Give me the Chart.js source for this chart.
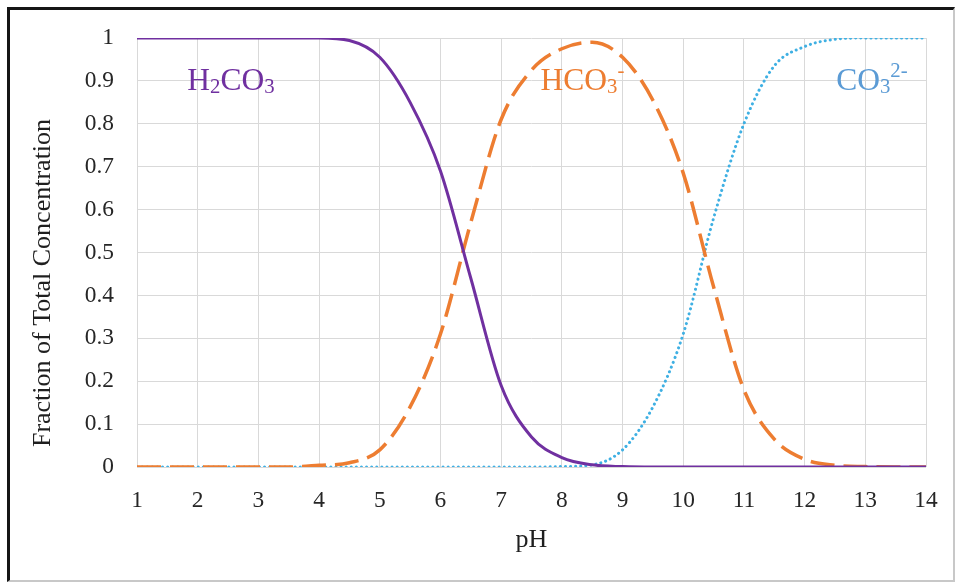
<!DOCTYPE html>
<html>
<head>
<meta charset="utf-8">
<title>Carbonate species vs pH</title>
<script src="https://cdn.jsdelivr.net/npm/chart.js@4.4.1/dist/chart.umd.min.js"></script>
<style>
  html, body { margin: 0; padding: 0; background: #fff; }
  #wrap { position: relative; width: 959px; height: 584px; }
  #chart { position: absolute; left: 0; top: 0; }
  #frame {
    position: absolute; left: 7px; top: 7px; width: 943px; height: 570px;
    border-left: 3px solid #151515; border-top: 3px solid #151515;
    border-right: 2px solid #c8c8c8; border-bottom: 2px solid #c8c8c8;
    pointer-events: none;
  }
</style>
</head>
<body>
<div id="wrap">
  <canvas id="chart" width="959" height="584"></canvas>
  <div id="frame"></div>
</div>
<script>
// pH, every half unit
const phValues = [1, 1.5, 2, 2.5, 3, 3.5, 4, 4.5, 5, 5.5, 6, 6.5, 7, 7.5, 8, 8.5, 9, 9.5, 10, 10.5, 11, 11.5, 12, 12.5, 13, 13.5, 14];

// fraction of total carbonate for each species
const h2co3 = [1, 1, 1, 1, 1, 1, 1, 0.994, 0.955, 0.85, 0.69, 0.44, 0.19, 0.07, 0.022, 0.005, 0.001, 0, 0, 0, 0, 0, 0, 0, 0, 0, 0];
const hco3  = [0, 0, 0, 0, 0, 0, 0.004, 0.01, 0.04, 0.14, 0.31, 0.57, 0.81, 0.925, 0.975, 0.99, 0.955, 0.855, 0.685, 0.42, 0.18, 0.065, 0.018, 0.004, 0.001, 0, 0];
const co3   = [0, 0, 0, 0, 0, 0, 0, 0, 0, 0, 0, 0, 0, 0, 0.001, 0.005, 0.04, 0.14, 0.31, 0.58, 0.80, 0.935, 0.98, 0.997, 1, 1, 1];

const xTickLabels = ['1', '2', '3', '4', '5', '6', '7', '8', '9', '10', '11', '12', '13', '14'];
const yTickLabels = ['0', '0.1', '0.2', '0.3', '0.4', '0.5', '0.6', '0.7', '0.8', '0.9', '1'];

const serif = '"Liberation Serif", "Times New Roman", serif';

function toPoints(values) {
  return phValues.map((ph, i) => ({ x: ph, y: values[i] }));
}

// draws a formula with sub/superscripts, left-aligned on the baseline
function drawFormula(ctx, parts, x, y, color, size) {
  ctx.save();
  ctx.fillStyle = color;
  ctx.textAlign = 'left';
  ctx.textBaseline = 'alphabetic';
  let cx = x;
  parts.forEach(([txt, kind]) => {
    let fs = size, dy = 0;
    if (kind === 'sub') { fs = size * 0.66; dy = size * 0.1; }
    if (kind === 'sup') { fs = size * 0.66; dy = -size * 0.4; }
    ctx.font = fs + 'px ' + serif;
    ctx.fillText(txt, cx, y + dy);
    cx += ctx.measureText(txt).width;
  });
  ctx.restore();
}

const chartText = {
  id: 'chartText',
  afterDraw(chart) {
    const ctx = chart.ctx;
    const sx = chart.scales.x;
    const sy = chart.scales.y;
    const area = chart.chartArea;

    ctx.save();
    ctx.fillStyle = '#1f1f1f';
    ctx.font = '26px ' + serif;
    ctx.textAlign = 'center';
    ctx.textBaseline = 'alphabetic';
    ctx.fillText('pH', (area.left + area.right) / 2, 547);
    ctx.translate(50, 283);
    ctx.rotate(-Math.PI / 2);
    ctx.fillText('Fraction of Total Concentration', 0, 0);
    ctx.restore();

    const labelY = sy.getPixelForValue(0.879);
    drawFormula(ctx, [['H'], ['2', 'sub'], ['CO'], ['3', 'sub']], sx.getPixelForValue(1.83), labelY, '#7030a0', 31.5);
    drawFormula(ctx, [['HCO'], ['3', 'sub'], ['-', 'sup']], sx.getPixelForValue(7.65), labelY, '#ed7d31', 31.5);
    drawFormula(ctx, [['CO'], ['3', 'sub'], ['2-', 'sup']], sx.getPixelForValue(12.52), labelY, '#5b9bd5', 31.5);
  }
};

const tickFont = { family: serif, size: 23.4 };

new Chart(document.getElementById('chart'), {
  type: 'line',
  data: {
    datasets: [
      {
        label: 'H2CO3',
        data: toPoints(h2co3),
        borderColor: '#7030a0',
        borderWidth: 3,
        cubicInterpolationMode: 'monotone'
      },
      {
        label: 'HCO3-',
        data: toPoints(hco3),
        borderColor: '#ed7d31',
        borderWidth: 3.5,
        borderDash: [24, 9],
        cubicInterpolationMode: 'monotone'
      },
      {
        label: 'CO3 2-',
        data: toPoints(co3),
        borderColor: '#3fb0e3',
        borderWidth: 3,
        borderDash: [0.1, 5],
        borderCapStyle: 'round',
        cubicInterpolationMode: 'monotone'
      }
    ]
  },
  options: {
    responsive: false,
    animation: false,
    events: [],
    layout: { padding: { left: 0, right: 33, top: 38, bottom: 0 } },
    elements: { point: { radius: 0 } },
    plugins: {
      legend: { display: false },
      tooltip: { enabled: false }
    },
    scales: {
      x: {
        type: 'linear',
        min: 1,
        max: 14,
        afterFit: (scale) => { scale.height = 117; },
        ticks: {
          stepSize: 1,
          autoSkip: false,
          maxRotation: 0,
          padding: 20,
          color: '#262626',
          font: tickFont,
          callback: (v, i) => xTickLabels[i]
        },
        grid: { color: '#d9d9d9', drawTicks: false },
        border: { display: false }
      },
      y: {
        min: 0,
        max: 1,
        afterFit: (scale) => { scale.width = 137; },
        ticks: {
          stepSize: 0.1,
          padding: 23,
          color: '#262626',
          font: tickFont,
          callback: (v, i) => yTickLabels[i]
        },
        grid: { color: '#d9d9d9', drawTicks: false },
        border: { display: false }
      }
    }
  },
  plugins: [chartText]
});
</script>
</body>
</html>
